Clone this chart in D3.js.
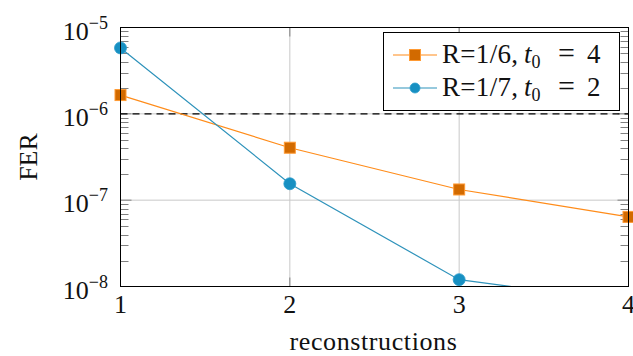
<!DOCTYPE html>
<html><head><meta charset="utf-8">
<script src="https://cdn.jsdelivr.net/npm/d3@7"></script>
<style>
html,body{margin:0;padding:0;background:#fff;}
svg text{font-family:"Liberation Serif","Times New Roman",serif;fill:#111;}
</style></head>
<body>
<svg id="c" width="633" height="356"></svg>
<script>
const reconstructions = [1, 2, 3, 4];
const ferR16 = [1.65e-6, 4.05e-7, 1.33e-7, 6.4e-8];
const ferR17 = [5.8e-6, 1.55e-7, 1.2e-8, 6.6e-9];
const xTicks = [1, 2, 3, 4];
const yTickExps = [-5, -6, -7, -8];
const seriesNames = ["R=1/6", "R=1/7"];
const seriesT0 = ["4", "2"];
const threshold = 1e-6;

const pL = 120.5, pR = 628.5, pT = 27.5, pB = 286.5;
const svg = d3.select("#c");
const x = d3.scaleLinear().domain([1, 4]).range([pL, pR]);
const y = d3.scaleLog().domain([1e-8, 1e-5]).range([pB, pT]);

svg.append("defs").append("clipPath").attr("id", "clip")
  .append("rect").attr("x", pL).attr("y", pT).attr("width", pR - pL).attr("height", pB - pT);

// grid
const g = svg.append("g");
g.selectAll(null).data(xTicks.slice(1, -1)).enter().append("line")
  .attr("x1", d => x(d)).attr("x2", d => x(d)).attr("y1", pT).attr("y2", pB)
  .attr("stroke", "#c8c8c8").attr("stroke-width", 1);
g.selectAll(null).data(yTickExps.slice(1, -1)).enter().append("line")
  .attr("y1", d => y(Math.pow(10, d))).attr("y2", d => y(Math.pow(10, d))).attr("x1", pL).attr("x2", pR)
  .attr("stroke", "#c8c8c8").attr("stroke-width", 1);

// minor ticks (left and right, inside)
const minors = [];
for (let e = -8; e < -5; e++) for (let m = 2; m <= 9; m++) minors.push(m * Math.pow(10, e));
[[pL, 1], [pR, -1]].forEach(([px, dir]) => {
  g.selectAll(null).data(minors).enter().append("line")
    .attr("x1", px).attr("x2", px + dir * 8)
    .attr("y1", d => Math.round(y(d)) + 0.5).attr("y2", d => Math.round(y(d)) + 0.5)
    .attr("stroke", "#808080").attr("stroke-width", 1);
  g.selectAll(null).data(yTickExps).enter().append("line")
    .attr("x1", px).attr("x2", px + dir * 11)
    .attr("y1", d => y(Math.pow(10, d))).attr("y2", d => y(Math.pow(10, d)))
    .attr("stroke", "#808080").attr("stroke-width", 1);
});
[[pB, -1], [pT, 1]].forEach(([py, dir]) => {
  g.selectAll(null).data(xTicks).enter().append("line")
    .attr("x1", d => x(d)).attr("x2", d => x(d)).attr("y1", py).attr("y2", py + dir * 9)
    .attr("stroke", "#808080").attr("stroke-width", 1);
});

// threshold dashed line
svg.append("line").attr("x1", pL).attr("x2", pR)
  .attr("y1", y(threshold)).attr("y2", y(threshold))
  .attr("stroke", "#000").attr("stroke-width", 1.2).attr("stroke-dasharray", "7,5");

// series
const orangeLine = "#ff8c1a", orangeFill = "#d26a00", orangeStroke = "#ff9a33";
const blueLine = "#2f93bb", blueFill = "#1790c2", blueStroke = "#2a9ccc";
const line = d3.line().x((d, i) => x(reconstructions[i])).y(d => y(d));

svg.append("path").datum(ferR16).attr("d", line).attr("fill", "none")
  .attr("stroke", orangeLine).attr("stroke-width", 1.2).attr("clip-path", "url(#clip)");
svg.append("path").datum(ferR17).attr("d", line).attr("fill", "none")
  .attr("stroke", blueLine).attr("stroke-width", 1.2).attr("clip-path", "url(#clip)");

const inRange = v => v >= 1e-8 && v <= 1e-5;
const sq = 11, cr = 6;
svg.selectAll(null).data(reconstructions.map((r, i) => [r, ferR16[i]]).filter(d => inRange(d[1])))
  .enter().append("rect")
  .attr("x", d => x(d[0]) - sq / 2).attr("y", d => y(d[1]) - sq / 2).attr("width", sq).attr("height", sq)
  .attr("fill", orangeFill).attr("stroke", orangeStroke).attr("stroke-width", 1);
svg.selectAll(null).data(reconstructions.map((r, i) => [r, ferR17[i]]).filter(d => inRange(d[1])))
  .enter().append("circle")
  .attr("cx", d => x(d[0])).attr("cy", d => y(d[1])).attr("r", cr)
  .attr("fill", blueFill).attr("stroke", blueStroke).attr("stroke-width", 0.8);

// frame
svg.append("rect").attr("x", pL).attr("y", pT).attr("width", pR - pL).attr("height", pB - pT)
  .attr("fill", "none").attr("stroke", "#000").attr("stroke-width", 1);

// x tick labels
svg.selectAll(null).data(xTicks).enter().append("text")
  .attr("x", d => x(d)).attr("y", 313).attr("text-anchor", "middle")
  .attr("font-size", 26).text(d => d);

// y tick labels 10^e
yTickExps.forEach(e => {
  const t = svg.append("text").attr("x", 108).attr("y", y(Math.pow(10, e)) + 12)
    .attr("text-anchor", "end").attr("font-size", 26);
  t.append("tspan").text("10");
  t.append("tspan").attr("font-size", 18).attr("dy", -11).text("\u2212" + (-e));
});

// axis labels
svg.append("text").attr("x", (pL + pR) / 2 - 1).attr("y", 350).attr("text-anchor", "middle")
  .attr("font-size", 26).attr("letter-spacing", 0.6).text("reconstructions");
svg.append("text").attr("transform", `translate(37,${(pT + pB) / 2}) rotate(-90)`)
  .attr("text-anchor", "middle").attr("font-size", 26).text("FER");

// legend
const lg = svg.append("g");
lg.append("rect").attr("x", 383.5).attr("y", 32.5).attr("width", 236).attr("height", 78)
  .attr("fill", "#fff").attr("stroke", "#000").attr("stroke-width", 1);
const rows = [
  {name: seriesNames[0], t0: seriesT0[0], cy: 55, lc: orangeLine, shape: "sq"},
  {name: seriesNames[1], t0: seriesT0[1], cy: 88, lc: blueLine, shape: "ci"}
];
rows.forEach(r => {
  lg.append("line").attr("x1", 393).attr("x2", 437).attr("y1", r.cy).attr("y2", r.cy)
    .attr("stroke", r.lc).attr("stroke-width", 1.2);
  if (r.shape === "sq") {
    lg.append("rect").attr("x", 415 - sq / 2).attr("y", r.cy - sq / 2).attr("width", sq).attr("height", sq)
      .attr("fill", orangeFill).attr("stroke", orangeStroke);
  } else {
    lg.append("circle").attr("cx", 415).attr("cy", r.cy).attr("r", 5)
      .attr("fill", blueFill).attr("stroke", blueStroke).attr("stroke-width", 0.8);
  }
  const t = lg.append("text").attr("y", r.cy + 8).attr("font-size", 27);
  t.append("tspan").attr("x", 442).attr("letter-spacing", 0.3).text(r.name + ",");
  t.append("tspan").attr("x", 524).attr("font-style", "italic").text("t");
  t.append("tspan").attr("font-size", 18).attr("dy", 5).text("0");
  t.append("tspan").attr("x", 558).attr("dy", -5).attr("font-size", 30).text("=");
  t.append("tspan").attr("x", 587).text(r.t0);
});
</script>
</body></html>
